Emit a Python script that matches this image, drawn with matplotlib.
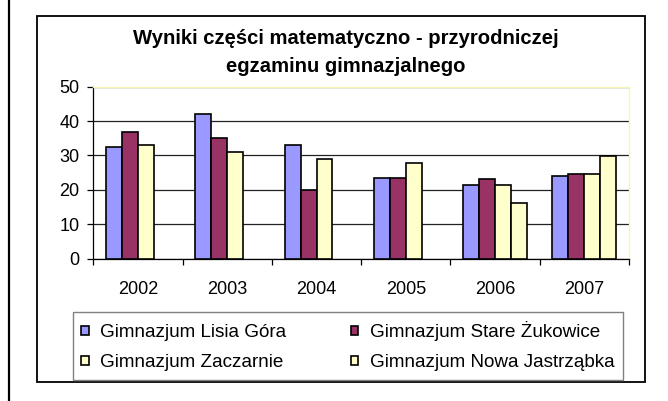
import matplotlib
matplotlib.use("Agg")
import matplotlib.pyplot as plt
import numpy as np
from matplotlib.patches import Rectangle
from matplotlib.lines import Line2D

plt.rcParams['font.family'] = ['Liberation Sans', 'DejaVu Sans']

lata = ['2002', '2003', '2004', '2005', '2006', '2007']
szkoly = ['Gimnazjum Lisia Góra', 'Gimnazjum Stare Żukowice',
          'Gimnazjum Zaczarnie', 'Gimnazjum Nowa Jastrząbka']
lisia_gora = [32.5, 42.0, 33.0, 23.5, 21.5, 24.0]
stare_zukowice = [36.7, 35.1, 19.9, 23.5, 23.1, 24.6]
zaczarnie = [33.0, 31.0, 28.9, 27.7, 21.4, 24.6]
nowa_jastrzabka = [np.nan, np.nan, np.nan, np.nan, 16.3, 29.9]
kolory = ['#9999FF', '#993366', '#FFFFCC', '#FFFFCC']

W, H = 668, 401
fig = plt.figure(figsize=(W / 100, H / 100), dpi=100)

# ramki: linia przy lewej krawedzi i ramka wykresu
fig.add_artist(Line2D([8.5 / W, 8.5 / W], [0, 1], color='black', lw=1.6,
                      transform=fig.transFigure))
fig.add_artist(Rectangle((37.3 / W, 1 - 381.7 / H), (645 - 37.3) / W,
                         (381.7 - 16) / H, transform=fig.transFigure,
                         fill=False, edgecolor='black', lw=1.3))

ax = fig.add_axes([93.3 / W, 1 - 258.7 / H, (629 - 93.3) / W, (258.7 - 86.7) / H])

x = np.arange(len(lata))
w = 0.179
serie = [lisia_gora, stare_zukowice, zaczarnie, nowa_jastrzabka]
slupki = []
for i, s in enumerate(serie):
    b = ax.bar(x + (i - 1.5) * w, s, w, color=kolory[i], edgecolor='black',
               lw=1.2, label=szkoly[i], zorder=3)
    slupki.append(b)

ax.set_xlim(-0.5, 5.5)
ax.set_ylim(0, 50)
ax.set_yticks(range(0, 51, 10))
ax.yaxis.grid(True, color='#222222', lw=0.9, zorder=0)
ax.set_axisbelow(True)

ax.set_xticks(x)
ax.set_xticklabels(lata, fontsize=13)
ax.set_xticks(np.arange(-0.5, 6, 1), minor=True)
ax.tick_params(axis='x', which='major', length=0, pad=16)
ax.tick_params(axis='x', which='minor', length=4, width=0.9, direction='out')
ax.tick_params(axis='y', length=4, width=0.9, direction='out', labelsize=13, pad=6)

for side in ['top', 'right']:
    ax.spines[side].set_color('#F5F5B8')
    ax.spines[side].set_linewidth(1.0)
for side in ['left', 'bottom']:
    ax.spines[side].set_color('black')
    ax.spines[side].set_linewidth(0.9)

fig.text(346 / W, 1 - 38 / H, 'Wyniki części matematyczno - przyrodniczej',
         ha='center', va='center', fontsize=14.6, fontweight='bold')
fig.text(346 / W, 1 - 66 / H, 'egzaminu gimnazjalnego',
         ha='center', va='center', fontsize=14.6, fontweight='bold')

kolejnosc = [0, 2, 1, 3]
leg = fig.legend([slupki[i] for i in kolejnosc], [szkoly[i] for i in kolejnosc],
                 ncol=2, loc='lower left', mode='expand',
                 bbox_to_anchor=(72.7 / W, 1 - 380 / H, (623 - 72.7) / W, (380 - 316) / H),
                 borderaxespad=0, fontsize=13.6, handlelength=0.4, handleheight=0.4,
                 handletextpad=0.6, labelspacing=0.7, borderpad=0.46,
                 fancybox=False, framealpha=1, edgecolor='#808080')
leg.get_frame().set_linewidth(1.0)

plt.savefig('out.png', dpi=100)
